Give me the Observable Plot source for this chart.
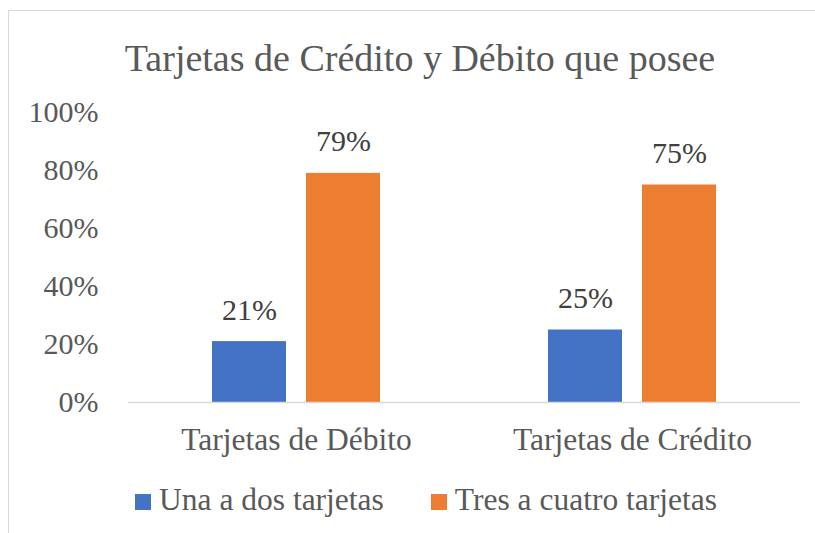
<!DOCTYPE html>
<html>
<head>
<meta charset="utf-8">
<script src="https://cdn.jsdelivr.net/npm/d3@7"></script>
<script src="https://cdn.jsdelivr.net/npm/@observablehq/plot@0.6"></script>
<style>
  html, body { margin: 0; padding: 0; background: #fff; }
  body { width: 815px; height: 533px; position: relative; overflow: hidden; font-family: "Liberation Serif", "Times New Roman", serif; color: #595959; }
  #frame { position: absolute; left: 8px; top: 10px; width: 820px; height: 540px; border-top: 1.5px solid #d9d9d9; border-left: 1.5px solid #d9d9d9; }
  #title { position: absolute; left: 0; width: 840px; top: 36px; text-align: center; font-size: 38px; line-height: 44px; color: #595959; }
  #chart { position: absolute; left: 0; top: 90px; }
  #chart svg text { font-family: "Liberation Serif", "Times New Roman", serif; }
  #legend { position: absolute; left: 0; width: 852px; top: 482px; display: flex; justify-content: center; gap: 47px; font-size: 31.5px; line-height: 36px; }
  .item { display: flex; align-items: center; }
  .sw { width: 16px; height: 16px; margin-right: 8px; margin-top: 3px; }
</style>
</head>
<body>
<div id="frame"></div>
<div id="title"></div>
<div id="chart"></div>
<div id="legend"></div>
<script>
const titleText = "Tarjetas de Crédito y Débito que posee";
const categories = ["Tarjetas de Débito", "Tarjetas de Crédito"];
const series = ["Una a dos tarjetas", "Tres a cuatro tarjetas"];
const colors = ["#4472C4", "#ED7D31"];
const unaADos = [0.21, 0.25];
const tresACuatro = [0.79, 0.75];
const yTicks = [0, 0.2, 0.4, 0.6, 0.8, 1.0];

const data = [];
categories.forEach((c, i) => {
  data.push({cat: c, series: series[0], value: unaADos[i]});
  data.push({cat: c, series: series[1], value: tresACuatro[i]});
});

document.getElementById("title").textContent = titleText;

const pct = d3.format(".0%");

const chart = Plot.plot({
  width: 815,
  height: 380,
  marginLeft: 127,
  marginRight: 15,
  marginTop: 22,
  marginBottom: 68,
  style: {fontFamily: "'Liberation Serif', 'Times New Roman', serif", color: "#595959", background: "transparent"},
  fx: {domain: categories, padding: 0, label: null},
  x: {domain: series, paddingInner: 0.2105, paddingOuter: 0.876, axis: null},
  y: {domain: [0, 1], label: null},
  color: {domain: series, range: colors},
  marks: [
    Plot.axisY({ticks: yTicks, tickFormat: pct, tickSize: 0, tickPadding: 30, fontSize: 30, label: null, fill: "#595959"}),
    Plot.axisFx({anchor: "bottom", tickSize: 0, tickPadding: 25, fontSize: 31.5, label: null, fill: "#595959"}),
    Plot.barY(data, {fx: "cat", x: "series", y: "value", fill: "series"}),
    Plot.ruleY([0], {stroke: "#d9d9d9", strokeWidth: 1.5}),
    Plot.text(data, {fx: "cat", x: "series", y: "value", text: d => pct(d.value), lineAnchor: "bottom", dy: -22, fontSize: 30, fill: "#404040"})
  ]
});
document.getElementById("chart").appendChild(chart);

const legend = document.getElementById("legend");
series.forEach((s, i) => {
  const item = document.createElement("div");
  item.className = "item";
  const sw = document.createElement("div");
  sw.className = "sw";
  sw.style.background = colors[i];
  const t = document.createElement("span");
  t.textContent = s;
  item.appendChild(sw);
  item.appendChild(t);
  legend.appendChild(item);
});
</script>
</body>
</html>
